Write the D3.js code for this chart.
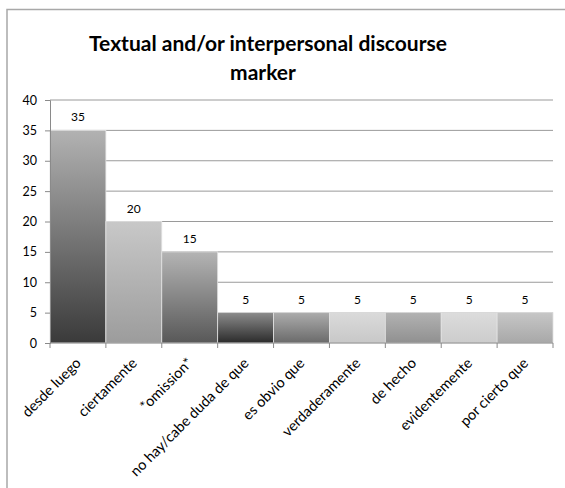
<!DOCTYPE html>
<html>
    <head>
        <meta charset="utf-8">
        <title>Textual and/or interpersonal discourse marker</title>
        <style>
            body { margin: 0; background: #fff; }
            text { font-family: Lato, "Open Sans", sans-serif; fill: #000; }
        </style>
    </head>
    <body>
        <svg id="chart" width="565" height="488"></svg>

        <script src="https://d3js.org/d3.v7.min.js"></script>
        <script>
            // datos
            const categories = ["desde luego", "ciertamente", "*omission*", "no hay/cabe duda de que",
                                "es obvio que", "verdaderamente", "de hecho", "evidentemente", "por cierto que"];
            const values = [35, 20, 15, 5, 5, 5, 5, 5, 5];
            const yTicks = [0, 5, 10, 15, 20, 25, 30, 35, 40];

            // degradado de cada barra (arriba, abajo)
            const shades = [
                ["#b2b2b2", "#3a3a3a"],
                ["#c8c8c8", "#9c9c9c"],
                ["#b4b4b4", "#585858"],
                ["#8c8c8c", "#2a2a2a"],
                ["#acacac", "#6a6a6a"],
                ["#dadada", "#c8c8c8"],
                ["#b2b2b2", "#909090"],
                ["#dcdcdc", "#cccccc"],
                ["#c6c6c6", "#a8a8a8"]
            ];

            const svg = d3.select("#chart");

            // marco
            svg.append("rect")
                .attr("x", 7).attr("y", 9.5)
                .attr("width", 600).attr("height", 600)
                .attr("fill", "none")
                .attr("stroke", "#a8a8a8")
                .attr("stroke-width", 1.5);

            // título
            const title = svg.append("text")
                .attr("text-anchor", "middle")
                .attr("font-weight", "bold")
                .attr("font-size", 21);
            title.append("tspan").attr("x", 268).attr("y", 51).text("Textual and/or interpersonal discourse");
            title.append("tspan").attr("x", 263).attr("y", 80).text("marker");

            const x = d3.scaleBand()
                .domain(categories)
                .range([50, 553])
                .padding(0);

            const y = d3.scaleLinear()
                .domain([0, 40])
                .range([343, 100]);

            const defs = svg.append("defs");
            shades.forEach((s, i) => {
                const g = defs.append("linearGradient")
                    .attr("id", "grad" + i)
                    .attr("x1", 0).attr("y1", 0).attr("x2", 0).attr("y2", 1);
                g.append("stop").attr("offset", "0%").attr("stop-color", s[0]);
                g.append("stop").attr("offset", "100%").attr("stop-color", s[1]);
            });

            // líneas de división
            svg.append("g")
                .selectAll("line")
                .data(yTicks.slice(1))
                .join("line")
                  .attr("x1", 50).attr("x2", 553)
                  .attr("y1", d => y(d)).attr("y2", d => y(d))
                  .attr("stroke", "#9a9a9a")
                  .attr("stroke-width", 1);

            // barras
            svg.append("g")
                .selectAll("rect")
                .data(values)
                .join("rect")
                  .attr("x", (d, i) => x(categories[i]))
                  .attr("y", d => y(d))
                  .attr("width", x.bandwidth())
                  .attr("height", d => y(0) - y(d))
                  .attr("fill", (d, i) => "url(#grad" + i + ")")
                  .attr("stroke", "#e2e2e2")
                  .attr("stroke-width", 0.8);

            // etiquetas de valor
            svg.append("g")
                .selectAll("text")
                .data(values)
                .join("text")
                  .attr("x", (d, i) => x(categories[i]) + x.bandwidth() / 2)
                  .attr("y", d => y(d) - 9)
                  .attr("text-anchor", "middle")
                  .attr("font-size", 12)
                  .text(d => d);

            // eje y
            const yAxis = svg.append("g")
                .attr("transform", "translate(50,0)")
                .call(d3.axisLeft(y).tickValues(yTicks).tickSize(5).tickPadding(8));
            yAxis.selectAll("path, line").attr("stroke", "#8a8a8a");
            yAxis.selectAll("text").attr("font-size", 12.5).attr("font-family", "Lato, sans-serif");

            // eje x
            const xAxis = svg.append("g")
                .attr("transform", "translate(0," + y(0) + ")");
            xAxis.append("line")
                .attr("x1", 50).attr("x2", 553)
                .attr("stroke", "#8a8a8a");
            xAxis.selectAll("line.tick")
                .data(categories.concat([null]))
                .join("line")
                  .attr("class", "tick")
                  .attr("x1", (d, i) => i < categories.length ? x(d) : x.range()[1])
                  .attr("x2", (d, i) => i < categories.length ? x(d) : x.range()[1])
                  .attr("y1", 0).attr("y2", 5)
                  .attr("stroke", "#8a8a8a");
            xAxis.selectAll("text")
                .data(categories)
                .join("text")
                  .attr("text-anchor", "end")
                  .attr("font-size", 14.5)
                  .attr("transform", d => "translate(" + (x(d) + x.bandwidth() / 2 + 4) + ",21) rotate(-45)")
                  .text(d => d);
        </script>
    </body>
</html>
